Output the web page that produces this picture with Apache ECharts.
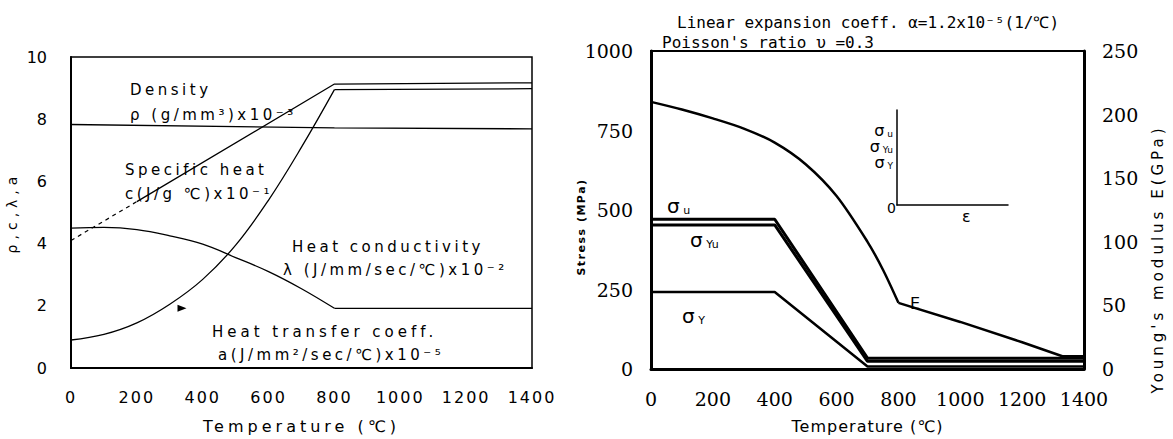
<!DOCTYPE html>
<html>
<head>
<meta charset="UTF-8"/>
<title></title>
<script src="https://cdn.jsdelivr.net/npm/echarts@6/dist/echarts.min.js"></script>
<style>
  body { margin: 0; background: #fff; }
  #chart { width: 1173px; height: 439px; }
  /* the scanned figure prints most labels with wide letter spacing;
     a family name "lspNN" (not installed, the browser falls through) marks it */
  #chart text[style*="lsp10"] { letter-spacing: 1px; }
  #chart text[style*="lsp15"] { letter-spacing: 1.5px; }
  #chart text[style*="lsp20"] { letter-spacing: 2px; }
  #chart text[style*="lsp35"] { letter-spacing: 3.5px; }
  #chart text[style*="lsp40"] { letter-spacing: 4px; }
  #chart text[style*="lsp50"] { letter-spacing: 5px; }
</style>
</head>
<body>
<div id="chart"></div>
<script>
// ---- left panel: material properties vs temperature ----
var densT = [0, 800, 1400];
var densV = [7.83, 7.72, 7.69];
var cpDashT = [0, 200];
var cpDashV = [4.1, 5.35];
var cpT = [200, 800, 1400];
var cpV = [5.35, 9.13, 9.17];
var lamT = [0, 100, 200, 300, 400, 500, 600, 700, 800];
var lamV = [4.5, 4.52, 4.45, 4.25, 3.98, 3.55, 3.1, 2.55, 1.92];
var lamFlatT = [800, 1400];
var lamFlatV = [1.92, 1.92];
var htcT = [0, 100, 200, 300, 400, 500, 600, 700, 800];
var htcV = [0.9, 1.08, 1.45, 2.05, 2.85, 3.95, 5.4, 7.1, 8.95];
var htcFlatT = [800, 1400];
var htcFlatV = [8.95, 8.98];
var arrowMark = [337, 1.92];

// ---- right panel: strength and Young's modulus ----
var eT = [0, 100, 200, 300, 400, 500, 600, 700, 750, 800];
var eV = [210, 204, 197, 189, 178, 161, 136, 100, 78, 52];
var eTailT = [800, 1000, 1200, 1330, 1400];
var eTailV = [52, 37, 21, 10, 10];
var suT = [0, 400, 700, 1400];
var suV = [471, 471, 34, 34];
var syuT = [0, 400, 700, 1400];
var syuV = [453, 453, 24, 24];
var syT = [0, 400, 700, 1400];
var syV = [242, 242, 8, 8];

function pairs(t, v) {
  var out = [];
  for (var i = 0; i < t.length; i++) out.push([t[i], v[i]]);
  return out;
}

function line(t, v, xi, yi, width, extra) {
  var s = {
    type: 'line', xAxisIndex: xi, yAxisIndex: yi, data: pairs(t, v),
    symbol: 'none', silent: true,
    lineStyle: { color: '#000', width: width }
  };
  for (var k in extra) s[k] = extra[k];
  return s;
}

var black = '#000';
var monoFont = 'DejaVu Sans Mono';
var sansFont = 'DejaVu Sans';
var serifFont = 'DejaVu Serif';

function spaced(font, sp) { return 'lsp' + sp + ', "' + font + '"'; }

function note(x, y, text, size, family, extra) {
  var t = { type: 'text', x: x, y: y, style: { text: text, fill: black, font: size + 'px ' + family, verticalAlign: 'middle' } };
  for (var k in extra) t[k] = extra[k];
  return t;
}
// sigma with a small subscript sitting low in the same line box
function sigma(x, y, sub, size, align) {
  var small = Math.round(size * 0.55);
  return {
    type: 'text', x: x, y: y,
    style: {
      text: '{s|σ}{b| ' + sub + '}', align: align || 'left', verticalAlign: 'middle',
      rich: {
        s: { fontSize: size, fontFamily: sansFont, color: black, lineHeight: size },
        b: { fontSize: small, fontFamily: sansFont, color: black, lineHeight: small, verticalAlign: 'bottom' }
      }
    }
  };
}
function plain(v) { return String(v); }

var annoFont = spaced(sansFont, 35);

var myChart = echarts.init(document.getElementById('chart'), null, { renderer: 'svg' });
var option = {
  animation: false,
  backgroundColor: '#fff',
  grid: [
    { left: 71, top: 57, width: 461, height: 313, show: true, borderColor: black, borderWidth: 1.5 },
    { left: 651, top: 51, width: 433, height: 318, show: true, borderColor: black, borderWidth: 2 },
    { left: 897, top: 110, width: 111, height: 95 }
  ],
  xAxis: [
    {
      gridIndex: 0, type: 'value', min: 0, max: 1400, interval: 200,
      axisLine: { lineStyle: { color: black, width: 2 } }, axisTick: { show: false }, splitLine: { show: false },
      axisLabel: { color: black, fontSize: 16, fontFamily: spaced(sansFont, 20), margin: 21, formatter: plain },
      name: 'Temperature (℃)', nameLocation: 'middle', nameGap: 50,
      nameTextStyle: { color: black, fontSize: 16, fontFamily: spaced(sansFont, 40) }
    },
    {
      gridIndex: 1, type: 'value', min: 0, max: 1400, interval: 200,
      axisLine: { lineStyle: { color: black, width: 3 } }, axisTick: { show: false }, splitLine: { show: false },
      axisLabel: { color: black, fontSize: 19, fontFamily: serifFont, margin: 20, formatter: plain },
      name: 'Temperature (℃)', nameLocation: 'middle', nameGap: 49,
      nameTextStyle: { color: black, fontSize: 16, fontFamily: spaced(sansFont, 10) }
    },
    {
      gridIndex: 2, type: 'value', min: 0, max: 1, show: true,
      axisLine: { lineStyle: { color: black, width: 1.5 } }, axisTick: { show: false },
      axisLabel: { show: false }, splitLine: { show: false }
    }
  ],
  yAxis: [
    {
      gridIndex: 0, type: 'value', min: 0, max: 10, interval: 2,
      axisLine: { show: true, lineStyle: { color: black, width: 2 } }, axisTick: { show: false }, splitLine: { show: false },
      axisLabel: { color: black, fontSize: 16, fontFamily: sansFont, margin: 24, formatter: plain },
      name: 'ρ,c,λ,a', nameLocation: 'middle', nameGap: 52, nameRotate: 90,
      nameTextStyle: { color: black, fontSize: 14, fontFamily: spaced(sansFont, 50) }
    },
    {
      gridIndex: 1, type: 'value', min: 0, max: 1000, interval: 250,
      axisLine: { show: true, lineStyle: { color: black, width: 3 } }, axisTick: { show: false }, splitLine: { show: false },
      axisLabel: { color: black, fontSize: 19, fontFamily: serifFont, margin: 18, formatter: plain }
    },
    {
      gridIndex: 1, type: 'value', position: 'right', min: 0, max: 250, interval: 50,
      axisLine: { show: true, lineStyle: { color: black, width: 3 } }, axisTick: { show: false }, splitLine: { show: false },
      axisLabel: { color: black, fontSize: 19, fontFamily: serifFont, margin: 18, formatter: plain }
    },
    {
      gridIndex: 2, type: 'value', min: 0, max: 1, show: true,
      axisLine: { show: true, lineStyle: { color: black, width: 1.5 } }, axisTick: { show: false },
      axisLabel: { show: false }, splitLine: { show: false }
    }
  ],
  series: [
    line(densT, densV, 0, 0, 1.3),
    line(cpDashT, cpDashV, 0, 0, 1.2, { lineStyle: { color: black, width: 1.2, type: [4, 4] } }),
    line(cpT, cpV, 0, 0, 1.3),
    line(lamT, lamV, 0, 0, 1.3, { smooth: 0.4 }),
    line(lamFlatT, lamFlatV, 0, 0, 1.3),
    line(htcT, htcV, 0, 0, 1.3, {
      smooth: 0.4,
      markPoint: {
        silent: true, symbol: 'triangle', symbolSize: [7, 9], symbolRotate: -90,
        itemStyle: { color: black }, label: { show: false },
        data: [{ coord: arrowMark }]
      }
    }),
    line(htcFlatT, htcFlatV, 0, 0, 1.3),

    line(eT, eV, 1, 2, 2.5, { smooth: 0.3 }),
    line(eTailT, eTailV, 1, 2, 2.5),
    line(suT, suV, 1, 1, 3),
    line(syuT, syuV, 1, 1, 3),
    line(syT, syV, 1, 1, 2.5)
  ],
  graphic: [
    note(130, 90, 'Density', 15, annoFont),
    note(130, 115, 'ρ (g/mm³)x10⁻³', 15, annoFont),
    note(125, 170, 'Specific heat', 15, annoFont),
    note(125, 194, 'c(J/g ℃)x10⁻¹', 15, annoFont),
    note(292, 247, 'Heat conductivity', 15, annoFont),
    note(283, 270, 'λ (J/mm/sec/℃)x10⁻²', 15, annoFont),
    note(212, 332, 'Heat transfer coeff.', 15, spaced(sansFont, 40)),
    note(218, 355, 'a(J/mm²/sec/℃)x10⁻⁵', 15, annoFont),

    note(677, 22, 'Linear expansion coeff. α=1.2x10⁻⁵(1/℃)', 16, '"' + monoFont + '"'),
    note(662, 42, "Poisson's ratio υ =0.3", 16, '"' + monoFont + '"'),
    note(581, 227, 'Stress (MPa)', 11, spaced(sansFont, 15),
      { rotation: Math.PI / 2, style: { text: 'Stress (MPa)', fill: black, font: 'bold 11px ' + spaced(sansFont, 15), align: 'center', verticalAlign: 'middle' } }),
    note(1158, 259, "Young's modulus E(GPa)", 15, spaced(sansFont, 40),
      { rotation: Math.PI / 2, style: { text: "Young's modulus E(GPa)", fill: black, font: '15px ' + spaced(sansFont, 40), align: 'center', verticalAlign: 'middle' } }),
    sigma(667, 206, 'u', 20),
    sigma(690, 240, 'Yu', 20),
    sigma(682, 316, 'Y', 20),
    note(910, 303, 'E', 16, '"' + sansFont + '"'),

    sigma(893, 130, 'u', 16, 'right'),
    sigma(893, 146, 'Yu', 16, 'right'),
    sigma(893, 162, 'Y', 16, 'right'),
    note(887, 208, '0', 14, '"' + sansFont + '"'),
    note(962, 216, 'ε', 16, '"' + sansFont + '"')
  ]
};
myChart.setOption(option);
</script>
</body>
</html>
